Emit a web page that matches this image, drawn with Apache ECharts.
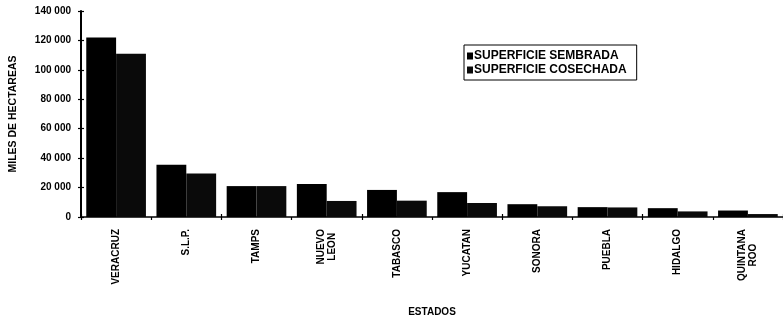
<!DOCTYPE html>
<html>
<head>
<meta charset="utf-8">
<script src="https://cdn.jsdelivr.net/npm/echarts@6/dist/echarts.min.js"></script>
<style>html,body{margin:0;padding:0;background:#fff}#c{width:783px;height:322px}</style>
</head>
<body>
<div id="c"></div>
<script>
const categories = ['VERACRUZ','S.L.P.','TAMPS','NUEVO\nLEON','TABASCO','YUCATAN','SONORA','PUEBLA','HIDALGO','QUINTANA\nROO'];
const sembrada = [122000, 35500, 21000, 22400, 18400, 16900, 8700, 6700, 6000, 4400];
const cosechada = [111000, 29500, 21000, 10900, 11100, 9500, 7300, 6500, 3800, 2000];
const seriesNames = ['SUPERFICIE SEMBRADA', 'SUPERFICIE COSECHADA'];
const yMin = 0, yMax = 140000, yStep = 20000;

const FONT = 'Liberation Sans, Arial, sans-serif';
const fmt = v => v === 0 ? '0' : String(v).replace(/\B(?=(\d{3})+(?!\d))/g, ' ');
const catFmt = v => v.split('\n').map(s => '{c|' + s + '}').join('\n');

const chart = echarts.init(document.getElementById('c'), null, {renderer: 'canvas'});
chart.setOption({
  animation: false,
  backgroundColor: '#fff',
  grid: {left: 78, right: -5, top: 11, bottom: 101, containLabel: false},
  legend: {
    orient: 'vertical',
    left: 464, top: 45,
    padding: [5, 10, 4, 3],
    itemGap: 2,
    itemWidth: 6, itemHeight: 7,
    borderColor: '#000', borderWidth: 1,
    icon: 'rect',
    textStyle: {fontFamily: FONT, fontSize: 12, fontWeight: 'bold', color: '#000', padding: [0, 0, 0, -4]},
    data: seriesNames
  },
  xAxis: [{
    type: 'category',
    data: categories,
    name: 'ESTADOS',
    nameLocation: 'middle',
    nameGap: 90,
    nameTextStyle: {fontFamily: FONT, fontSize: 10, fontWeight: 'bold', color: '#000'},
    axisLine: {lineStyle: {color: '#000', width: 1.5}},
    axisTick: {show: true, length: 3, lineStyle: {color: '#000', width: 1.2}},
    axisLabel: {
      rotate: 90, margin: 12, interval: 0, color: '#000',
      fontFamily: FONT, fontSize: 10, fontWeight: 'bold',
      formatter: catFmt,
      rich: {c: {align: 'center', fontFamily: FONT, fontSize: 10, fontWeight: 'bold', color: '#000', lineHeight: 11}}
    }
  }, {
    type: 'category',
    data: categories,
    position: 'bottom',
    axisLine: {show: false},
    axisTick: {show: true, inside: true, length: 3, lineStyle: {color: '#000', width: 1.2}},
    axisLabel: {show: false}
  }],
  yAxis: [{
    type: 'value',
    min: yMin, max: yMax, interval: yStep,
    name: 'MILES DE HECTAREAS',
    nameLocation: 'middle',
    nameGap: 62,
    nameRotate: 90,
    nameTextStyle: {fontFamily: FONT, fontSize: 10.5, fontWeight: 'bold', color: '#000'},
    axisLine: {show: true, lineStyle: {color: '#000', width: 2}},
    axisTick: {show: true, length: 3, lineStyle: {color: '#000', width: 1.2}},
    splitLine: {show: false},
    axisLabel: {margin: 10, fontFamily: FONT, fontSize: 10, fontWeight: 'bold', color: '#000', formatter: fmt}
  }, {
    type: 'value',
    min: yMin, max: yMax, interval: yStep,
    position: 'left',
    axisLine: {show: false},
    axisTick: {show: true, inside: true, length: 3, lineStyle: {color: '#000', width: 1.2}},
    splitLine: {show: false},
    axisLabel: {show: false}
  }],
  series: [{
    name: seriesNames[0], type: 'bar', data: sembrada,
    barGap: '0%', barCategoryGap: '15%',
    itemStyle: {color: '#000'}
  }, {
    name: seriesNames[1], type: 'bar', data: cosechada,
    barGap: '0%', barCategoryGap: '15%',
    itemStyle: {color: '#0a0a0a'}
  }]
});
</script>
</body>
</html>
